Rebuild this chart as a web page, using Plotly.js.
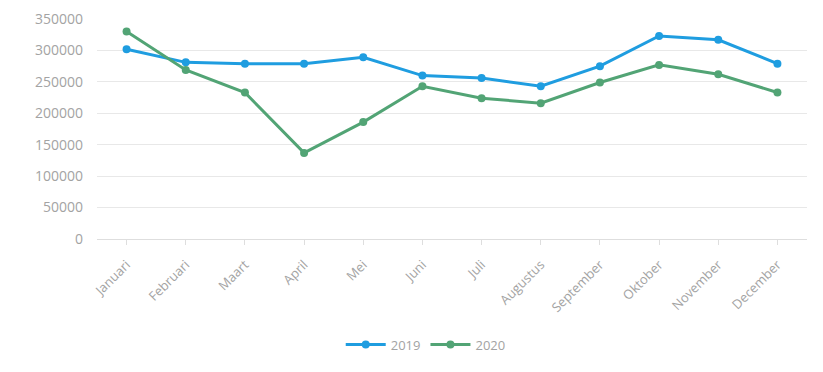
<!DOCTYPE html>
<html><head><meta charset="utf-8">
<script src="https://cdn.plot.ly/plotly-3.0.1.min.js"></script>
<style>html,body{margin:0;padding:0;background:#fff}#chart{width:823px;height:372px}</style>
</head><body><div id="chart"></div>
<script>
const months = ["Januari","Februari","Maart","April","Mei","Juni","Juli","Augustus","September","Oktober","November","December"];
const values2019 = [302000, 281000, 279000, 279000, 289000, 260000, 256000, 243000, 275000, 323000, 317000, 279000];
const values2020 = [330000, 269000, 233000, 137000, 186000, 243000, 224000, 216000, 249000, 277000, 262000, 233000];
const yTicks = [0, 50000, 100000, 150000, 200000, 250000, 300000, 350000];

const font = {family: "Open Sans, Noto Sans, sans-serif", size: 13, color: "#a3a3a3"};
const yFont = {family: "Open Sans, Noto Sans, sans-serif", size: 14, color: "#a3a3a3"};
const traces = [
  {x: months, y: values2019, name: "2019", type: "scatter", mode: "lines+markers",
   line: {color: "#1f9de0", width: 3}, marker: {color: "#1f9de0", size: 8}},
  {x: months, y: values2020, name: "2020", type: "scatter", mode: "lines+markers",
   line: {color: "#52a475", width: 3}, marker: {color: "#52a475", size: 8}}
];
const layout = {
  width: 823, height: 372,
  margin: {l: 97, r: 16, t: 19, b: 133},
  paper_bgcolor: "#fff", plot_bgcolor: "#fff",
  font: font,
  showlegend: true,
  legend: {orientation: "h", x: 0.463, xanchor: "center", y: -0.48, yanchor: "middle", font: font, itemwidth: 40},
  xaxis: {type: "category", range: [-0.5, 11.5], tickangle: -45, showgrid: false,
    showline: true, linecolor: "#dedede", linewidth: 1, ticks: "outside", ticklen: 5, tickcolor: "#dedede",
    tickfont: font, zeroline: false, ticklabelstandoff: 7},
  yaxis: {range: [0, 350000], tickvals: yTicks, ticktext: yTicks.map(String), showgrid: true, gridcolor: "#e8e8e8",
    zeroline: false, showline: false, tickfont: yFont, ticklabelstandoff: 13}
};
Plotly.newPlot("chart", traces, layout, {displayModeBar: false});
</script></body></html>
